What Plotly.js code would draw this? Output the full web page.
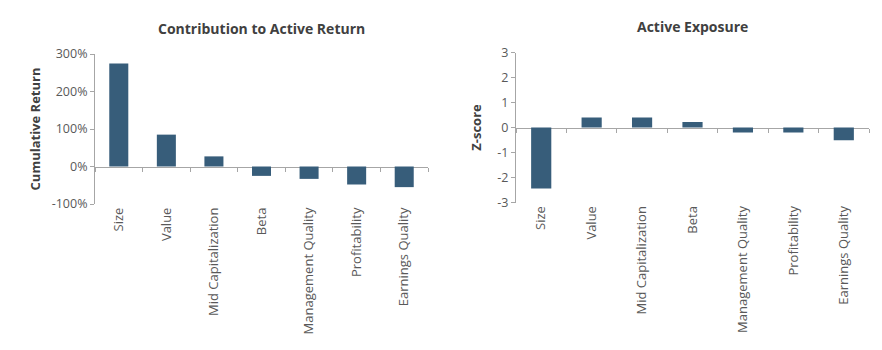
<!DOCTYPE html>
<html><head><meta charset="utf-8">
<script src="https://cdn.plot.ly/plotly-3.0.1.min.js"></script>
<style>html,body{margin:0;padding:0;background:#fff}#c{width:882px;height:350px}</style>
</head><body><div id="c"></div>
<script>
const categories = ["Size","Value","Mid Capitalization","Beta","Management Quality","Profitability","Earnings Quality"];
const contributionPct = [275, 85, 27, -25, -33, -48, -55];
const zScores = [-2.44, 0.40, 0.40, 0.22, -0.20, -0.20, -0.51];
const returnTicks = [-100, 0, 100, 200, 300];
const returnTickLabels = ["-100%","0%","100%","200%","300%"];
const zTicks = [-3,-2,-1,0,1,2,3];
const zTickLabels = ["-3","-2","-1","0","1","2","3"];

const barColor = "#375d7a";
const axisColor = "#a6a6a6";
const textColor = "#595959";
const titleColor = "#404040";
const font = "Open Sans, Liberation Sans, sans-serif";

const W = 882, H = 350;
const L = {x0: 95/W, x1: 428/W, y0: 1-204/H, y1: 1-54/H, ymin: -100, ymax: 300};
const R = {x0: 516/W, x1: 869/W, y0: 1-202.5/H, y1: 1-52.5/H, ymin: -3, ymax: 3};
function zeroPos(p){ return p.y0 + (0 - p.ymin)/(p.ymax - p.ymin)*(p.y1 - p.y0); }

const traces = [
  {type:"bar", x:categories, y:contributionPct, xaxis:"x", yaxis:"y", marker:{color:barColor}, width:0.4, hoverinfo:"x+y"},
  {type:"bar", x:categories, y:zScores, xaxis:"x2", yaxis:"y2", marker:{color:barColor}, width:0.4, hoverinfo:"x+y"},
  {type:"scatter", x:categories, y:contributionPct.map(()=>null), xaxis:"x3", yaxis:"y", showlegend:false, hoverinfo:"skip"},
  {type:"scatter", x:categories, y:zScores.map(()=>null), xaxis:"x4", yaxis:"y2", showlegend:false, hoverinfo:"skip"}
];

const catAxisBase = {
  type:"category", range:[-0.5, 6.5], showgrid:false, zeroline:false, showline:false,
  ticks:"", tickangle:-90, tickfont:{family:font, size:13, color:textColor}
};
const zeroAxisBase = {
  type:"category", range:[-0.5, 6.5], showgrid:false, zeroline:false, showline:true,
  linecolor:axisColor, linewidth:1, ticks:"outside", ticklen:4, tickcolor:axisColor,
  tickson:"boundaries", showticklabels:false, anchor:"free", side:"bottom", layer:"below traces"
};
const valAxisBase = {
  showgrid:false, zeroline:false, showline:true, linecolor:axisColor, linewidth:1,
  ticks:"outside", ticklen:4, tickcolor:axisColor, tickfont:{family:font, size:12.5, color:textColor}
};

const layout = {
  width:W, height:H, margin:{l:0,r:0,t:0,b:0}, showlegend:false,
  paper_bgcolor:"#fff", plot_bgcolor:"rgba(0,0,0,0)", bargap:0.6,
  xaxis: Object.assign({}, catAxisBase, {domain:[L.x0, L.x1], anchor:"y"}),
  xaxis2: Object.assign({}, catAxisBase, {domain:[R.x0, R.x1], anchor:"y2"}),
  xaxis3: Object.assign({}, zeroAxisBase, {domain:[L.x0, L.x1], overlaying:"x", position:zeroPos(L)}),
  xaxis4: Object.assign({}, zeroAxisBase, {domain:[R.x0, R.x1], overlaying:"x2", position:zeroPos(R)}),
  yaxis: Object.assign({}, valAxisBase, {domain:[L.y0, L.y1], anchor:"x", range:[L.ymin, L.ymax],
    tickvals:returnTicks, ticktext:returnTickLabels,
    title:{text:"Cumulative Return", font:{family:font, size:13, color:titleColor, weight:"bold"}, standoff:8}}),
  yaxis2: Object.assign({}, valAxisBase, {domain:[R.y0, R.y1], anchor:"x2", range:[R.ymin, R.ymax],
    tickvals:zTicks, ticktext:zTickLabels,
    title:{text:"Z-score", font:{family:font, size:13, color:titleColor, weight:"bold"}, standoff:12}}),
  annotations:[
    {text:"<b>Contribution to Active Return</b>", xref:"paper", yref:"paper", x:(L.x0+L.x1)/2, y:1-29/H,
     xanchor:"center", yanchor:"middle", showarrow:false, font:{family:font, size:14, color:titleColor}},
    {text:"<b>Active Exposure</b>", xref:"paper", yref:"paper", x:(R.x0+R.x1)/2, y:1-26/H,
     xanchor:"center", yanchor:"middle", showarrow:false, font:{family:font, size:14, color:titleColor}}
  ]
};
Plotly.newPlot("c", traces, layout, {displayModeBar:false, staticPlot:true});
</script></body></html>
